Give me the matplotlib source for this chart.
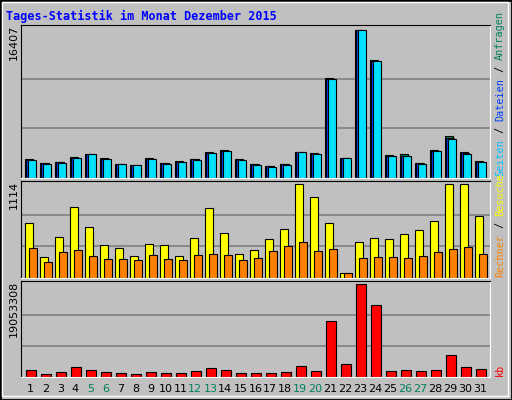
import matplotlib
matplotlib.use("Agg")
import matplotlib.pyplot as plt
import numpy as np

days = list(range(1, 32))
weekend = [5, 6, 12, 13, 19, 20, 26, 27]
hits = [2040, 1600, 1710, 2260, 2600, 2150, 1480, 1370, 2150, 1600, 1820, 2040, 2820, 3040, 2040,
        1480, 1260, 1480, 2820, 2710, 11060, 2150, 16407, 13070, 2490, 2600, 1600, 3040, 4600, 2820, 1820]
files = [1980, 1560, 1680, 2200, 2590, 2100, 1470, 1360, 2080, 1570, 1760, 2000, 2750, 2980, 1980,
         1450, 1230, 1450, 2800, 2640, 10940, 2140, 16320, 12960, 2430, 2440, 1570, 2980, 4380, 2720, 1750]
pages = [1940, 1520, 1600, 2150, 2580, 2040, 1460, 1350, 2010, 1540, 1700, 1950, 2700, 2920, 1920,
         1420, 1180, 1430, 2800, 2600, 10880, 2130, 16320, 12940, 2400, 2380, 1530, 2930, 4300, 2640, 1700]
visits = [656, 245, 487, 837, 607, 390, 354, 257, 402, 390, 257, 475, 825, 535, 282,
          330, 462, 583, 1114, 957, 656, 52, 426, 475, 462, 523, 571, 680, 1114, 1114, 740]
sites = [354, 185, 306, 330, 257, 221, 221, 209, 269, 221, 209, 269, 282, 269, 209,
         233, 318, 378, 426, 318, 342, 52, 233, 245, 245, 233, 257, 306, 342, 366, 282]
kb = [1320000, 490000, 900000, 1950000, 1320000, 900000, 700000, 490000, 900000, 700000, 700000,
      1110000, 1740000, 1320000, 700000, 700000, 700000, 900000, 2160000, 1110000, 11540000,
      2570000, 19053308, 14670000, 1110000, 1320000, 1110000, 1320000, 4450000, 1950000, 1530000]

W, H = 512, 400
fig = plt.figure(figsize=(W / 100, H / 100), dpi=100, facecolor="#C0C0C0")

def ax_px(x0, y0, x1, y1):
    return fig.add_axes([x0 / W, 1 - y1 / H, (x1 - x0) / W, (y1 - y0) / H], facecolor="#C0C0C0")

x = np.array(days)
XL = (0.35, 31.65)
mono = "DejaVu Sans Mono"

def style(ax, ymax, grid):
    ax.set_xlim(*XL)
    ax.set_ylim(0, ymax)
    ax.set_xticks([])
    ax.set_yticks([])
    for g in grid:
        ax.axhline(g, color="#808080", lw=1.2, zorder=0)
    for s in ["top", "left"]:
        ax.spines[s].set_color("black")
    for s in ["bottom", "right"]:
        ax.spines[s].set_color("white")

a1 = ax_px(20.7, 25, 490, 177.5)
style(a1, 16926, [16407 / 3, 16407 * 2 / 3])
a1.bar(x - 0.37, hits, width=0.55, align="edge", color="#00805C", edgecolor="black", lw=0.8)
a1.bar(x - 0.31, files, width=0.55, align="edge", color="#0040FF", edgecolor="black", lw=0.8)
a1.bar(x - 0.17, pages, width=0.57, align="edge", color="#00E0FF", edgecolor="black", lw=0.8)

a2 = ax_px(20.7, 180.5, 490, 277.5)
style(a2, 1158, [1114 / 3, 1114 * 2 / 3])
a2.bar(x - 0.37, visits, width=0.56, align="edge", color="#FFFF00", edgecolor="black", lw=0.8)
a2.bar(x - 0.1, sites, width=0.52, align="edge", color="#FF8000", edgecolor="black", lw=0.8)

a3 = ax_px(20.7, 280.5, 490, 376.5)
style(a3, 19800000, [19053308 / 3, 19053308 * 2 / 3])
a3.bar(x - 0.3, kb, width=0.7, align="edge", color="#FF0000", edgecolor="black", lw=0.8)

fig.text(6 / W, 1 - 16 / H, "Tages-Statistik im Monat Dezember 2015", color="#0000FF",
         fontsize=8.5, fontweight="bold", family=mono, va="center")
for y, s in [(25, "16407"), (181, "1114"), (281, "19053308")]:
    fig.text(14 / W, 1 - y / H, s, rotation=90, fontsize=8, va="top", ha="center", family="DejaVu Sans")

fig.canvas.draw()
renderer = fig.canvas.get_renderer()

def vlabel(y_bottom, parts, fs=8):
    y = y_bottom
    for s, c in parts:
        t = fig.text(500 / W, 1 - y / H, s, rotation=90, color=c, fontsize=fs, family=mono,
                     ha="center", va="bottom")
        bb = t.get_window_extent(renderer)
        y -= bb.height

vlabel(176, [("Seiten", "#00C0FF"), (" / ", "black"), ("Dateien", "#0040FF"),
             (" / ", "black"), ("Anfragen", "#00805C")], fs=7.3)
vlabel(277, [("Rechner", "#FF8000"), (" / ", "black"), ("Besuche", "#FFFF00")], fs=7.3)
vlabel(376, [("kb", "#FF0000")], fs=7.3)

for d in days:
    xp = 20.7 + (d - XL[0]) / (XL[1] - XL[0]) * (490 - 20.7)
    fig.text(xp / W, 1 - 389 / H, str(d), ha="center", va="center", fontsize=8,
             color="#00805C" if d in weekend else "black", family="DejaVu Sans")

fig.patches.append(plt.Rectangle((0, 0), 1, 1, transform=fig.transFigure, fill=False,
                                 edgecolor="black", lw=2))
fig.patches.append(plt.Rectangle((2 / W, 4 / H), 1 - 6 / W, 1 - 6 / H, transform=fig.transFigure,
                                 fill=False, edgecolor="white", lw=1))
fig.savefig("out.png", dpi=100, facecolor=fig.get_facecolor())
